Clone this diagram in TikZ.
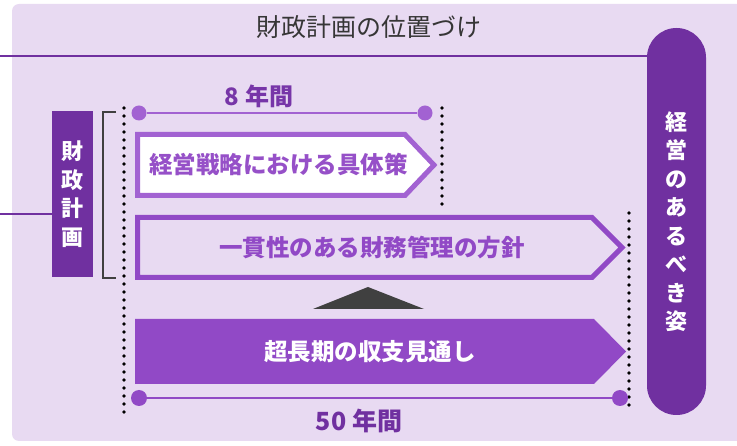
\documentclass[tikz,border=0pt]{standalone}
\usepackage{fontspec}
\newfontfamily\jp{Noto Sans CJK JP}
\definecolor{bgc}{HTML}{E8DAF2}
\definecolor{dpur}{HTML}{7030A0}
\definecolor{mpur}{HTML}{9149C6}
\definecolor{lpur}{HTML}{A262D2}
\definecolor{tpur}{HTML}{9650C8}
\definecolor{gry}{HTML}{404040}
\tikzset{
  conn/.style={draw=dpur, line width=2.5pt},
  dotline/.style={draw=black, line width=3.6pt, line cap=round, dash pattern=on 0pt off 8pt},
  enddot/.style={circle, inner sep=0pt, minimum size=15pt},
  vbox/.style={fill=dpur, text=white, inner sep=0pt, align=center, font=\jp\bfseries\fontsize{22}{28.5}\selectfont},
  boxtext/.style={inner sep=0pt, font=\jp\bfseries\fontsize{23.5}{28}\selectfont},
  yearlabel/.style={inner sep=0pt, font=\jp\bfseries\fontsize{24}{28}\selectfont},
}
\begin{document}
\begin{tikzpicture}[x=1pt,y=-1pt]
\useasboundingbox (0,0) rectangle (737,446);
% background
\fill[bgc, rounded corners=7pt] (12,4) rectangle (760,441);
% title
\node[inner sep=0pt, text=gry!85!black, font=\jp\fontsize{25}{30}\selectfont] (title) at (369,27) {財政計画の位置づけ};
% pill
\node[vbox, rounded corners=29.5pt, minimum width=59pt, minimum height=387pt] (pill) at (676.5,221.5) {経\\営\\の\\あ\\る\\べ\\き\\姿};
% left box
\node[vbox, minimum width=41pt, minimum height=166pt] (fz) at (72.5,194) {財\\政\\計\\画};
% connectors from left edge
\coordinate (e1) at (0,56);
\coordinate (e2) at (0,214);
\draw[conn] (e1) -- (e1 -| pill.west);
\draw[conn] (e2) -- (e2 -| fz.west);
% bracket
\draw[gry, line width=2pt] (116,112) -- (103,112) -- (103,278) -- (116,278);
% dotted guide lines
\draw[dotline] (124,108) -- (124,412);
\draw[dotline] (442,108) -- (442,205);
\draw[dotline] (629,213) -- (629,412);
% 8 years
\node[enddot, fill=lpur] (d8a) at (139,113) {};
\node[enddot, fill=lpur] (d8b) at (425,113) {};
\draw[lpur, line width=2.5pt] (d8a) -- (d8b);
\node[yearlabel, text=dpur!80!mpur] (y8) at (259,96) {8 年間};
% box 1
\draw[lpur, line width=5pt, fill=white, miter limit=10] (137.5,134.5) -- (405,134.5) -- (434,165) -- (405,195.5) -- (137.5,195.5) -- cycle;
\node[boxtext, text=tpur] (b1) at (278.5,165) {経営戦略における具体策};
% box 2
\draw[mpur, line width=5pt, miter limit=10] (137.5,217.5) -- (592,217.5) -- (622,247.5) -- (592,277.5) -- (137.5,277.5) -- cycle;
\node[boxtext, text=mpur] (b2) at (372,247.5) {一貫性のある財務管理の方針};
% triangle
\fill[gry] (313,309) -- (368,287) -- (424,309) -- cycle;
% box 3
\fill[mpur] (135,319) -- (594,319) -- (626,351.5) -- (594,384) -- (135,384) -- cycle;
\node[boxtext, text=white] (b3) at (370,352) {超長期の収支見通し};
% 50 years
\node[enddot, fill=mpur, minimum size=16pt] (d50a) at (139,398) {};
\node[enddot, fill=mpur, minimum size=16pt] (d50b) at (620,398) {};
\draw[mpur, line width=2.5pt] (d50a) -- (d50b);
\node[yearlabel, text=dpur, font=\jp\bfseries\fontsize{25}{28}\selectfont] (y50) at (359,421) {50 年間};
\end{tikzpicture}
\end{document}
